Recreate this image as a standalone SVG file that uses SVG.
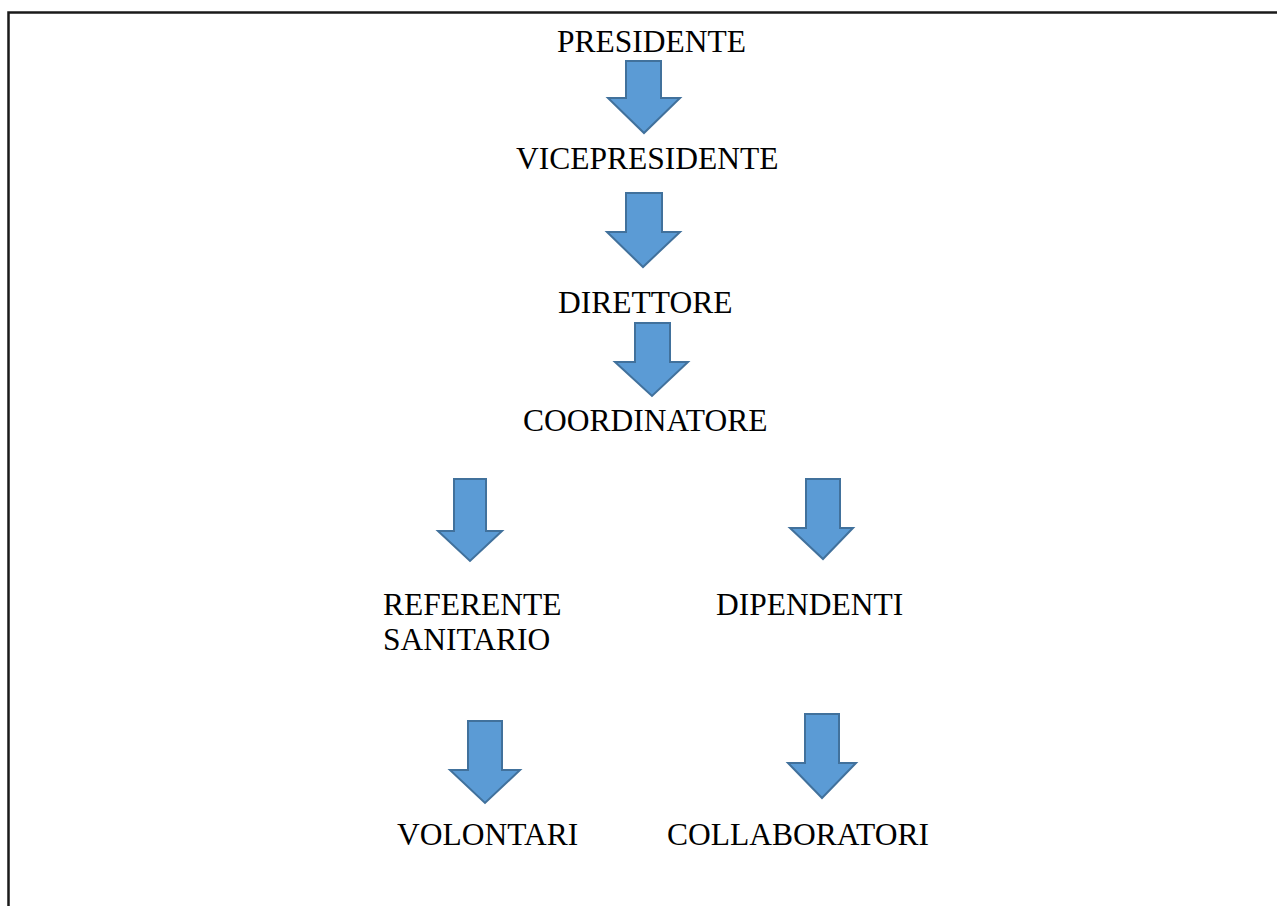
<svg xmlns="http://www.w3.org/2000/svg" width="1277" height="906" viewBox="0 0 1277 906">
<style>
.t{font-family:"Liberation Serif","Times New Roman",serif;font-size:31.5px;fill:#000}
.a{fill:#5B9BD5;stroke:#41719C;stroke-width:2;stroke-linejoin:miter}
</style>
<rect x="0" y="0" width="1277" height="906" fill="#fff"/>
<path d="M8.5,906 V12.5 H1277" fill="none" stroke="#1a1a1a" stroke-width="2.5"/>
<g id="n-presidente"><text class="t" x="557" y="52">PRESIDENTE</text></g>
<g id="n-vicepresidente"><text class="t" x="516" y="169">VICEPRESIDENTE</text></g>
<g id="n-direttore"><text class="t" x="558" y="313">DIRETTORE</text></g>
<g id="n-coordinatore"><text class="t" x="523" y="431">COORDINATORE</text></g>
<g id="n-referente"><text class="t" x="383" y="615">REFERENTE</text><text class="t" x="383" y="650">SANITARIO</text></g>
<g id="n-dipendenti"><text class="t" x="716" y="615">DIPENDENTI</text></g>
<g id="n-volontari"><text class="t" x="397" y="845">VOLONTARI</text></g>
<g id="n-collaboratori"><text class="t" x="667" y="845">COLLABORATORI</text></g>
<g id="connectors">
<polygon class="a" points="626,61 661,61 661,98 680,98 644,133 608,98 626,98"/>
<polygon class="a" points="626,193 662,193 662,232 680,232 643,267 607,232 626,232"/>
<polygon class="a" points="635,323 670,323 670,362 688,362 652,396 615,362 635,362"/>
<polygon class="a" points="454,479 486,479 486,531 502,531 470,561 438,531 454,531"/>
<polygon class="a" points="806,479 840,479 840,528 853,528 823,559 790,528 806,528"/>
<polygon class="a" points="468,721 502,721 502,770 520,770 485,803 450,770 468,770"/>
<polygon class="a" points="805,714 839,714 839,763 856,763 822,798 788,763 805,763"/>
</g>
</svg>
